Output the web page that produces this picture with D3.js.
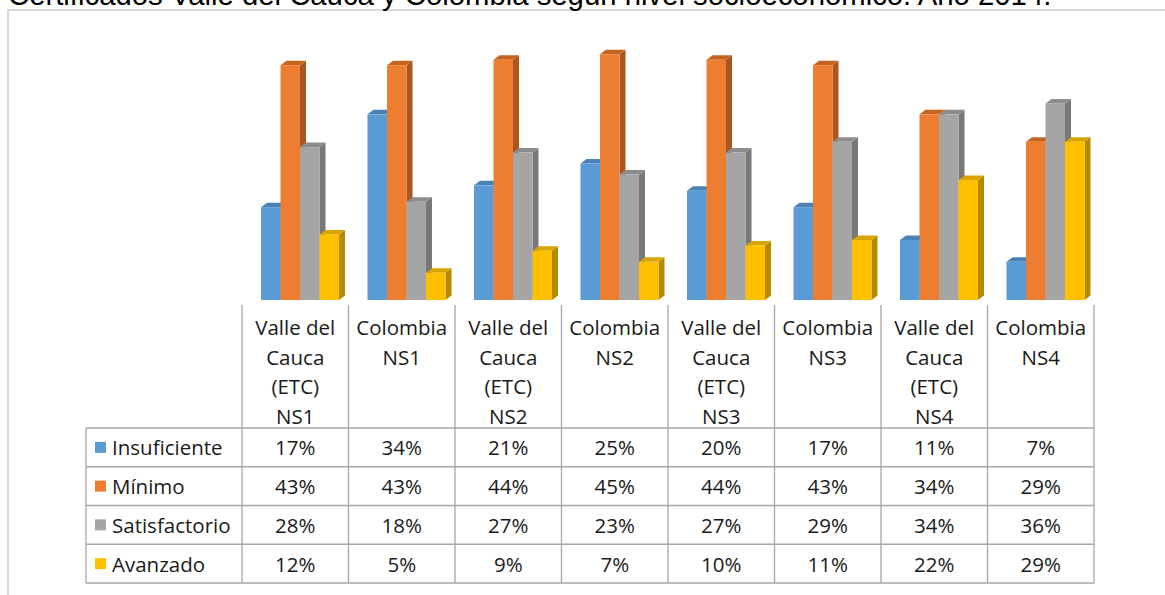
<!DOCTYPE html>
<html>
<head>
<meta charset="utf-8">
<script src="https://cdn.jsdelivr.net/npm/d3@7"></script>
<style>
  body { margin: 0; background: #fff; }
  svg { display: block; }
</style>
</head>
<body>
<script>
const categories = [
  ["Valle del", "Cauca", "(ETC)", "NS1"],
  ["Colombia", "NS1"],
  ["Valle del", "Cauca", "(ETC)", "NS2"],
  ["Colombia", "NS2"],
  ["Valle del", "Cauca", "(ETC)", "NS3"],
  ["Colombia", "NS3"],
  ["Valle del", "Cauca", "(ETC)", "NS4"],
  ["Colombia", "NS4"]
];
const seriesNames = ["Insuficiente", "Mínimo", "Satisfactorio", "Avanzado"];
const insuficiente  = [17, 34, 21, 25, 20, 17, 11, 7];
const minimo        = [43, 43, 44, 45, 44, 43, 34, 29];
const satisfactorio = [28, 18, 27, 23, 27, 29, 34, 36];
const avanzado      = [12, 5, 9, 7, 10, 11, 22, 29];
const values = [insuficiente, minimo, satisfactorio, avanzado];

const front = ["#5B9BD5", "#ED7D31", "#A5A5A5", "#FFC000"];
const side  = ["#41719C", "#A9571F", "#787878", "#B58900"];
const top_  = ["#4A82B5", "#C4641F", "#8C8C8C", "#D9A300"];

const W = 1165, H = 595;
const svg = d3.select("body").append("svg").attr("width", W).attr("height", H);

// marco
svg.append("path")
  .attr("d", `M8,${H} L8,10 L${W},10`)
  .attr("fill", "none").attr("stroke", "#d9d9d9").attr("stroke-width", 2);

// titulo (cortado arriba)
svg.append("text")
  .attr("x", 8).attr("y", 4.5)
  .style("font-family", "Liberation Sans, Arial, sans-serif")
  .style("font-size", "29.3px")
  .attr("fill", "#000")
  .text("Certificados Valle del Cauca y Colombia según nivel socioeconómico. Año 2014.");

const x = d3.scaleBand().domain(d3.range(categories.length)).range([242, 1094]);
const y = d3.scaleLinear().domain([0, 50]).range([300, 27]);
const bw = 19.5, dx = 6, dy = 4.5, barStart = 19;

const g = svg.append("g");
categories.forEach((c, i) => {
  values.forEach((s, k) => {
    const x0 = x(i) + barStart + k * bw, x1 = x0 + bw;
    const y0 = y(0), y1 = y(s[i]);
    // lateral
    g.append("path")
      .attr("d", `M${x1},${y1} L${x1 + dx},${y1 - dy} L${x1 + dx},${y0 - dy} L${x1},${y0} Z`)
      .attr("fill", side[k]);
    // tapa
    g.append("path")
      .attr("d", `M${x0},${y1} L${x0 + dx},${y1 - dy} L${x1 + dx},${y1 - dy} L${x1},${y1} Z`)
      .attr("fill", top_[k]);
    // frente
    g.append("rect")
      .attr("x", x0).attr("y", y1).attr("width", bw).attr("height", y0 - y1)
      .attr("fill", front[k]);
  });
});

// tabla
const lineC = "#a6a6a6";
const headTop = 305, rowTop = 428, rowH = 38.75;
const tbl = svg.append("g").attr("stroke", lineC).attr("stroke-width", 1.3);
const rowsBottom = rowTop + rowH * seriesNames.length;
// verticales de columnas
d3.range(categories.length + 1).forEach(i => {
  const xx = i < categories.length ? x(i) : x.range()[1];
  tbl.append("line").attr("x1", xx).attr("x2", xx).attr("y1", headTop).attr("y2", rowsBottom);
});
tbl.append("line").attr("x1", 86).attr("x2", 86).attr("y1", rowTop).attr("y2", rowsBottom);
d3.range(seriesNames.length + 1).forEach(r => {
  const yy = rowTop + r * rowH;
  tbl.append("line").attr("x1", 86).attr("x2", 1094).attr("y1", yy).attr("y2", yy);
});

const font = "'Open Sans', 'Noto Sans', sans-serif";
const fs = "20.5px";
categories.forEach((c, i) => {
  c.forEach((ln, j) => {
    svg.append("text")
      .attr("x", x(i) + x.bandwidth() / 2).attr("y", 327 + j * 29.5)
      .attr("text-anchor", "middle").attr("dominant-baseline", "central")
      .style("font-family", font).style("font-size", fs).attr("fill", "#1a1a1a")
      .text(ln);
  });
});

seriesNames.forEach((n, k) => {
  const cy = rowTop + k * rowH + rowH / 2;
  svg.append("rect").attr("x", 95).attr("y", cy - 5.5).attr("width", 11).attr("height", 11).attr("fill", front[k]);
  svg.append("text").attr("x", 112).attr("y", cy)
    .attr("dominant-baseline", "central")
    .style("font-family", font).style("font-size", fs).attr("fill", "#1a1a1a")
    .text(n);
  values[k].forEach((v, i) => {
    svg.append("text")
      .attr("x", x(i) + x.bandwidth() / 2).attr("y", cy)
      .attr("text-anchor", "middle").attr("dominant-baseline", "central")
      .style("font-family", font).style("font-size", fs).attr("fill", "#1a1a1a")
      .text(v + "%");
  });
});
</script>
</body>
</html>
